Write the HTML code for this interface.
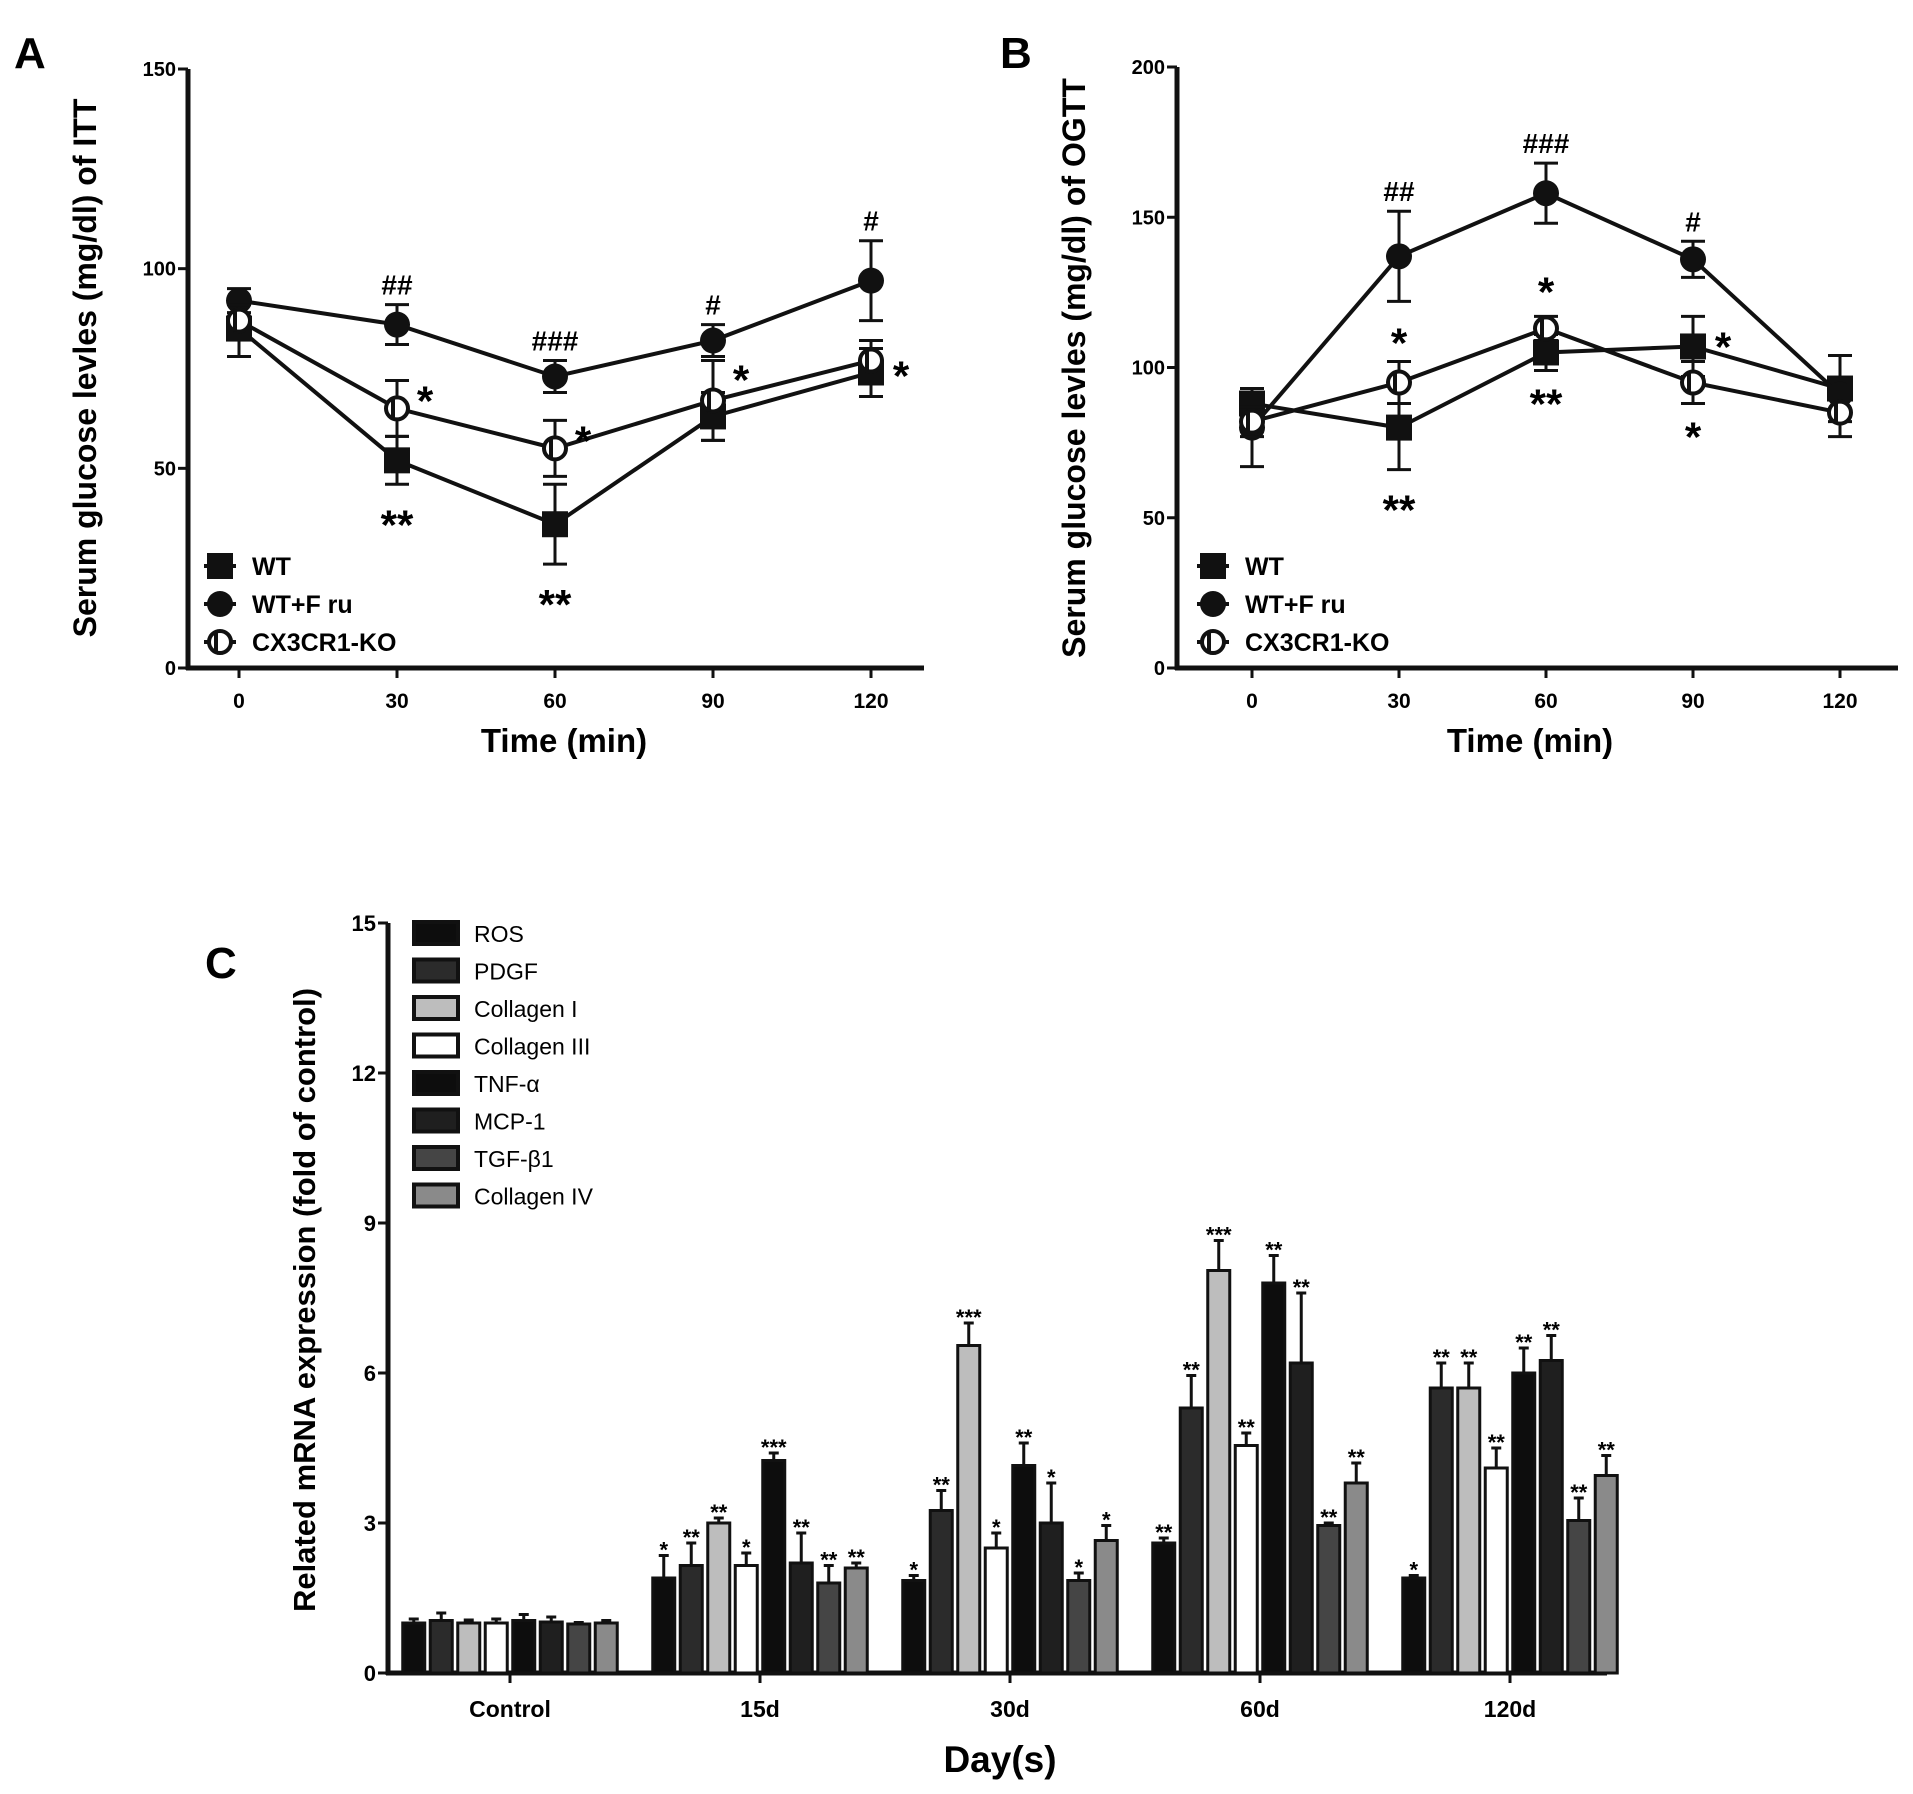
<!DOCTYPE html>
<html><head><meta charset="utf-8"><style>
html,body{margin:0;padding:0;background:#fff;}
svg{display:block;font-family:"Liberation Sans",sans-serif;}
</style></head><body>
<svg id="fig" width="1913" height="1794" viewBox="0 0 1913 1794" xmlns="http://www.w3.org/2000/svg">
<text x="14" y="68" font-size="44" font-weight="bold">A</text>
<text x="1000" y="68" font-size="44" font-weight="bold">B</text>
<text x="205" y="978" font-size="44" font-weight="bold">C</text>
<g id="pa"></g>
<g id="pb"></g>
<g id="pc"></g>
</svg>
<script>
// ---- Panel A / B data ----
const timeCats = [0, 30, 60, 90, 120];
const seriesNames = ["WT", "WT+F ru", "CX3CR1-KO"];
const aWT = [85, 52, 36, 63, 74];
const aWTerr = [7, 6, 10, 6, 6];
const aFru = [92, 86, 73, 82, 97];
const aFruErr = [3, 5, 4, 4, 10];
const aKO = [87, 65, 55, 67, 77];
const aKOerr = [4, 7, 7, 10, 5];
const aTicks = [0, 50, 100, 150];
const bWT = [88, 80, 105, 107, 93];
const bWTerr = [5, 14, 6, 10, 11];
const bFru = [80, 137, 158, 136, 91];
const bFruErr = [13, 15, 10, 6, 5];
const bKO = [82, 95, 113, 95, 85];
const bKOerr = [5, 7, 4, 7, 8];
const bTicks = [0, 50, 100, 150, 200];
// ---- Panel C data ----
const groups = ["Control", "15d", "30d", "60d", "120d"];
const genes = ["ROS", "PDGF", "Collagen I", "Collagen III", "TNF-α", "MCP-1", "TGF-β1", "Collagen IV"];
const cVals = [
  [1.0, 1.05, 1.0, 1.0, 1.05, 1.02, 0.98, 1.0],
  [1.9, 2.15, 3.0, 2.15, 4.25, 2.2, 1.8, 2.1],
  [1.85, 3.25, 6.55, 2.5, 4.15, 3.0, 1.85, 2.65],
  [2.6, 5.3, 8.05, 4.55, 7.8, 6.2, 2.95, 3.8],
  [1.9, 5.7, 5.7, 4.1, 6.0, 6.25, 3.05, 3.95]
];
const cErr = [
  [0.08, 0.15, 0.06, 0.08, 0.12, 0.1, 0.03, 0.05],
  [0.45, 0.45, 0.1, 0.25, 0.15, 0.6, 0.35, 0.1],
  [0.1, 0.4, 0.45, 0.3, 0.45, 0.8, 0.15, 0.3],
  [0.1, 0.65, 0.6, 0.25, 0.55, 1.4, 0.05, 0.4],
  [0.05, 0.5, 0.5, 0.4, 0.5, 0.5, 0.45, 0.4]
];
const cStars = [
  ["", "", "", "", "", "", "", ""],
  ["*", "**", "**", "*", "***", "**", "**", "**"],
  ["*", "**", "***", "*", "**", "*", "*", "*"],
  ["**", "**", "***", "**", "**", "**", "**", "**"],
  ["*", "**", "**", "**", "**", "**", "**", "**"]
];
const cTicks = [0, 3, 6, 9, 12, 15];

const NS = "http://www.w3.org/2000/svg";
function mk(parent, tag, attrs, text) {
  const e = document.createElementNS(NS, tag);
  for (const k in attrs) e.setAttribute(k, attrs[k]);
  if (text !== undefined) e.textContent = text;
  parent.appendChild(e);
  return e;
}

function linePanel(g, cfg) {
  const yS = v => cfg.y0 - (v / cfg.ymax) * (cfg.y0 - cfg.ytop);
  const xS = i => cfg.x0tick + i * cfg.step;
  let e;
  e = mk(g, "line", {x1: cfg.ax, y1: cfg.ytop, x2: cfg.ax, y2: cfg.y0 + 2, stroke: "#111", "stroke-width": 5});
  
  
  e = mk(g, "line", {x1: cfg.ax - 2, y1: cfg.y0, x2: cfg.xend, y2: cfg.y0, stroke: "#111", "stroke-width": 5});
  
  
  cfg.ticks.forEach(t => {
    mk(g, "line", {x1: cfg.ax - 10, y1: yS(t), x2: cfg.ax, y2: yS(t), stroke: "#111", "stroke-width": 3});
    e = mk(g, "text", {x: cfg.ax - 12, y: yS(t) + 7, "font-size": 20, "font-weight": "bold", "text-anchor": "end"}, String(t));
    
    
  });
  timeCats.forEach((c, i) => {
    mk(g, "line", {x1: xS(i), y1: cfg.y0, x2: xS(i), y2: cfg.y0 + 10, stroke: "#111", "stroke-width": 3});
    e = mk(g, "text", {x: xS(i), y: cfg.y0 + 40, "font-size": 21, "font-weight": "bold", "text-anchor": "middle"}, String(c));
    
    
  });
  e = mk(g, "text", {x: cfg.xtitle, y: 752, "font-size": 33, "font-weight": "bold", "text-anchor": "middle"}, "Time (min)");
  
  
  e = mk(g, "text", {transform: `translate(${cfg.ytx},368) rotate(-90)`, "font-size": 32, "font-weight": "bold", "text-anchor": "middle"}, cfg.ytitle);
  
  
  const series = [[cfg.wt, cfg.wtE, "sq"], [cfg.fru, cfg.fruE, "ci"], [cfg.ko, cfg.koE, "oc"]];
  series.forEach(([vals, errs, m], si) => {
    const sg = mk(g, "g", {});
    
    
    const pts = vals.map((v, i) => xS(i) + "," + yS(v)).join(" ");
    mk(sg, "polyline", {points: pts, fill: "none", stroke: "#111", "stroke-width": 4});
    vals.forEach((v, i) => {
      const x = xS(i), yt = yS(v + errs[i]), yb = yS(v - errs[i]);
      mk(sg, "line", {x1: x, y1: yt, x2: x, y2: yb, stroke: "#111", "stroke-width": 3});
      mk(sg, "line", {x1: x - 12, y1: yt, x2: x + 12, y2: yt, stroke: "#111", "stroke-width": 3});
      mk(sg, "line", {x1: x - 12, y1: yb, x2: x + 12, y2: yb, stroke: "#111", "stroke-width": 3});
      drawMarker(sg, m, x, yS(v));
    });
  });
  // legend
  seriesNames.forEach((n, i) => {
    const lg = mk(g, "g", {});
    
    
    const ly = 566 + i * 38;
    mk(lg, "line", {x1: cfg.legx - 16, y1: ly, x2: cfg.legx + 16, y2: ly, stroke: "#111", "stroke-width": 4});
    drawMarker(lg, ["sq", "ci", "oc"][i], cfg.legx, ly);
    mk(lg, "text", {x: cfg.legx + 32, y: ly + 9, "font-size": 25, "font-weight": "bold"}, n);
  });
  cfg.ann.forEach(a => {
    const yy = a.lab.startsWith("#") ? 0 : 0;
    e = mk(g, "text", {x: xS(a.i) + a.dx, y: yS(a.v) + a.dy, "font-size": a.lab.startsWith("#") ? 28 : 42, "font-weight": "bold", "text-anchor": "middle"}, a.lab);
    
    
  });
}
function drawMarker(g, m, x, y) {
  if (m === "sq") mk(g, "rect", {x: x - 13, y: y - 13, width: 26, height: 26, fill: "#111"});
  else if (m === "ci") mk(g, "circle", {cx: x, cy: y, r: 13, fill: "#111"});
  else {
    mk(g, "circle", {cx: x, cy: y, r: 11, fill: "#fff", stroke: "#111", "stroke-width": 4});
    mk(g, "line", {x1: x - 4, y1: y - 11, x2: x - 4, y2: y + 11, stroke: "#111", "stroke-width": 4});
  }
}

linePanel(document.getElementById("pa"), {
  ax: 188, ytop: 69, y0: 668, ymax: 150, x0tick: 239, step: 158, xend: 924, ticks: aTicks,
  xtitle: 564, ytx: 96, ytitle: "Serum glucose levles (mg/dl)  of ITT", legx: 220,
  wt: aWT, wtE: aWTerr, fru: aFru, fruE: aFruErr, ko: aKO, koE: aKOerr,
  ann: [
    {i: 1, v: aFru[1] + aFruErr[1], dx: 0, dy: -10, lab: "##"},
    {i: 2, v: aFru[2] + aFruErr[2], dx: 0, dy: -10, lab: "###"},
    {i: 3, v: aFru[3] + aFruErr[3], dx: 0, dy: -10, lab: "#"},
    {i: 4, v: aFru[4] + aFruErr[4], dx: 0, dy: -10, lab: "#"},
    {i: 1, v: aKO[1] + aKOerr[1], dx: 28, dy: 35, lab: "*"},
    {i: 1, v: aWT[1] - aWTerr[1], dx: 0, dy: 55, lab: "**"},
    {i: 2, v: aKO[2] + aKOerr[2], dx: 28, dy: 35, lab: "*"},
    {i: 2, v: aWT[2] - aWTerr[2], dx: 0, dy: 55, lab: "**"},
    {i: 3, v: aKO[3], dx: 28, dy: -6, lab: "*"},
    {i: 4, v: aKO[4], dx: 30, dy: 30, lab: "*"}
  ]
});
linePanel(document.getElementById("pb"), {
  ax: 1177, ytop: 67, y0: 668, ymax: 200, x0tick: 1252, step: 147, xend: 1898, ticks: bTicks,
  xtitle: 1530, ytx: 1085, ytitle: "Serum glucose levles (mg/dl)  of OGTT", legx: 1213,
  wt: bWT, wtE: bWTerr, fru: bFru, fruE: bFruErr, ko: bKO, koE: bKOerr,
  ann: [
    {i: 1, v: bFru[1] + bFruErr[1], dx: 0, dy: -10, lab: "##"},
    {i: 2, v: bFru[2] + bFruErr[2], dx: 0, dy: -10, lab: "###"},
    {i: 3, v: bFru[3] + bFruErr[3], dx: 0, dy: -10, lab: "#"},
    {i: 1, v: bKO[1] + bKOerr[1], dx: 0, dy: -4, lab: "*"},
    {i: 1, v: bWT[1] - bWTerr[1], dx: 0, dy: 55, lab: "**"},
    {i: 2, v: bKO[2], dx: 0, dy: -22, lab: "*"},
    {i: 2, v: bWT[2] - bWTerr[2], dx: 0, dy: 48, lab: "**"},
    {i: 3, v: bWT[3], dx: 30, dy: 15, lab: "*"},
    {i: 3, v: bKO[3] - bKOerr[3], dx: 0, dy: 48, lab: "*"}
  ]
});

// ---- Panel C ----
(function () {
  const g = document.getElementById("pc");
  const ax = 388, ytop = 923, y0 = 1673, ymax = 15, gx0 = 510, gstep = 250, pitch = 27.5, bw = 22, xend = 1607;
  const yS = v => y0 - (v / ymax) * (y0 - ytop);
  const fills = ["#0d0d0d", "#2b2b2b", "#bdbdbd", "#ffffff", "#0d0d0d", "#1f1f1f", "#454545", "#8a8a8a"];
  let e;
  e = mk(g, "line", {x1: ax, y1: ytop, x2: ax, y2: y0 + 2, stroke: "#111", "stroke-width": 5});
  
  
  e = mk(g, "line", {x1: ax - 2, y1: y0, x2: xend, y2: y0, stroke: "#111", "stroke-width": 5});
  
  
  cTicks.forEach(t => {
    mk(g, "line", {x1: ax - 10, y1: yS(t), x2: ax, y2: yS(t), stroke: "#111", "stroke-width": 3});
    e = mk(g, "text", {x: ax - 12, y: yS(t) + 8, "font-size": 22, "font-weight": "bold", "text-anchor": "end"}, String(t));
    
    
  });
  groups.forEach((gn, gi) => {
    const cx = gx0 + gi * gstep;
    mk(g, "line", {x1: cx, y1: y0, x2: cx, y2: y0 + 10, stroke: "#111", "stroke-width": 3});
    e = mk(g, "text", {x: cx, y: y0 + 44, "font-size": 23, "font-weight": "bold", "text-anchor": "middle"}, gn);
    
    
    genes.forEach((gen, k) => {
      const v = cVals[gi][k], er = cErr[gi][k];
      const x = cx + (k - 3.5) * pitch;
      const bg = mk(g, "g", {});
      
      
      mk(bg, "line", {x1: x, y1: yS(v), x2: x, y2: yS(v + er), stroke: "#111", "stroke-width": 3});
      mk(bg, "line", {x1: x - 5, y1: yS(v + er), x2: x + 5, y2: yS(v + er), stroke: "#111", "stroke-width": 3});
      mk(bg, "rect", {x: x - bw / 2, y: yS(v), width: bw, height: y0 - yS(v), fill: fills[k], stroke: "#111", "stroke-width": 3});
      if (cStars[gi][k]) mk(bg, "text", {x: x, y: yS(v + er) + 2, "font-size": 22, "font-weight": "bold", "text-anchor": "middle"}, cStars[gi][k]);
    });
  });
  genes.forEach((gen, k) => {
    const lg = mk(g, "g", {});
    
    
    const ly = 922 + k * 37.5;
    mk(lg, "rect", {x: 414, y: ly, width: 44, height: 22, fill: fills[k], stroke: "#111", "stroke-width": 4});
    mk(lg, "text", {x: 474, y: ly + 20, "font-size": 23}, gen);
  });
  e = mk(g, "text", {x: 1000, y: 1772, "font-size": 37, "font-weight": "bold", "text-anchor": "middle"}, "Day(s)");
  
  
  e = mk(g, "text", {transform: "translate(315,1300) rotate(-90)", "font-size": 31, "font-weight": "bold", "text-anchor": "middle"}, "Related mRNA expression (fold of control)");
  
  
})();
</script>
</body></html>
